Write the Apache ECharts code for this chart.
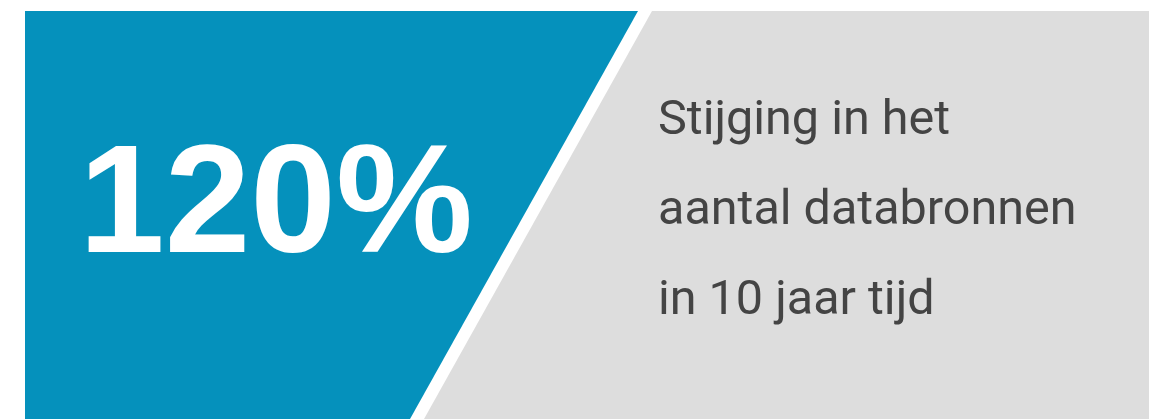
<!DOCTYPE html>
<html>
<head>
<meta charset="utf-8">
<script src="https://cdn.jsdelivr.net/npm/echarts@6/dist/echarts.min.js"></script>
<style>
html,body{margin:0;padding:0;background:#fff;}
#chart{width:1149px;height:419px;}
</style>
</head>
<body>
<div id="chart"></div>
<script>
const statValue = [120];
const statSuffix = ['%'];
const captionLines = ['Stijging in het', 'aantal databronnen', 'in 10 jaar tijd'];

(function () {
  const chart = echarts.init(document.getElementById('chart'), null, {renderer: 'canvas'});
  const W = 1149, H = 419;
  const panelTop = 11;
  const blueColor = '#0591bc';
  const greyColor = '#dddddd';

  const elements = [
    {
      type: 'polygon',
      shape: {points: [[25, panelTop], [638, panelTop], [410, H], [25, H]]},
      style: {fill: blueColor}
    },
    {
      type: 'polygon',
      shape: {points: [[652, panelTop], [W, panelTop], [W, H], [424, H]]},
      style: {fill: greyColor}
    },
    {
      type: 'text',
      x: 276, y: 210,
      style: {
        text: statValue[0] + statSuffix[0],
        fill: '#ffffff',
        font: 'bold 154px "Liberation Sans", Arial, sans-serif',
        align: 'center',
        verticalAlign: 'middle'
      }
    }
  ];
  captionLines.forEach((line, i) => {
    elements.push({
      type: 'text',
      x: 658, y: 122 + i * 90,
      style: {
        text: line,
        fill: '#444444',
        font: '48.5px Roboto, sans-serif',
        align: 'left',
        verticalAlign: 'middle'
      }
    });
  });

  chart.setOption({
    animation: false,
    graphic: {elements: elements}
  });
})();
</script>
</body>
</html>
